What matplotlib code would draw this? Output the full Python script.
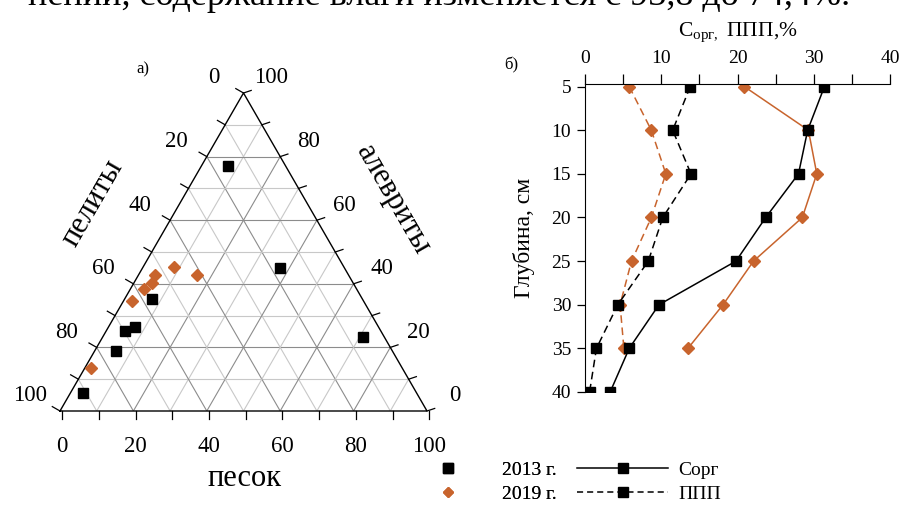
import numpy as np
import matplotlib.pyplot as plt
from matplotlib.lines import Line2D

plt.rcParams['font.family'] = ['Liberation Serif', 'DejaVu Serif']
plt.rcParams['mathtext.fontset'] = 'custom'
plt.rcParams['mathtext.rm'] = 'Liberation Serif'

ORANGE = '#C8642D'

# a) ternary diagram, % of sand (песок) and silt (алевриты); pelite is the rest
sand_2013 = [7.3, 37.4, 70.8, 7.4, 7.2, 5.1, 5.7, 3.6]
silt_2013 = [77.0, 45.1, 23.4, 35.1, 26.5, 25.2, 19.0, 5.6]
sand_2019 = [8.4, 16.0, 4.5, 5.1, 3.8, 2.2, 1.7]
silt_2019 = [45.4, 42.8, 42.8, 40.2, 38.3, 34.7, 13.4]
tern_ticks = [0, 20, 40, 60, 80, 100]

# б) depth profiles
depth = [5, 10, 15, 20, 25, 30, 35, 40]
corg_2013 = [31.4, 29.2, 28.0, 23.7, 19.8, 9.7, 5.8, 3.3]
ppp_2013 = [13.8, 11.5, 13.9, 10.2, 8.3, 4.3, 1.5, 0.6]
corg_2019 = [20.9, 29.3, 30.4, 28.5, 22.1, 18.1, 13.5]
ppp_2019 = [5.8, 8.7, 10.6, 8.7, 6.1, 4.6, 5.1]

H = np.sqrt(3) / 2


def cart(sand, silt):
    sand = np.asarray(sand, float)
    silt = np.asarray(silt, float)
    return sand + silt / 2, silt * H


fig = plt.figure(figsize=(9.01, 5.13), dpi=100)

# cut-off line of the page text above the figure
fig.text(850 / 901, 1 - 5 / 513, 'нении, содержание влаги изменяется с 93,8 до 74,4%.',
         ha='right', va='baseline', fontsize=26)

# ---------------- ternary ----------------
axT = fig.add_axes([60 / 901, 102 / 513, 367 / 901, 318 / 513])
axT.set_xlim(0, 100)
axT.set_ylim(0, 100 * H)
axT.axis('off')

for v in range(10, 100, 10):
    c = '#8c8c8c' if v % 20 == 0 else '#c8c8c8'
    # silt = v
    x, y = cart([0, 100 - v], [v, v])
    axT.plot(x, y, color=c, lw=0.8, zorder=1)
    # sand = v
    x, y = cart([v, v], [0, 100 - v])
    axT.plot(x, y, color=c, lw=0.8, zorder=1)
    # pelite = v
    x, y = cart([100 - v, 0], [0, 100 - v])
    axT.plot(x, y, color=c, lw=0.8, zorder=1)

x, y = cart([0, 100, 0, 0], [0, 0, 100, 0])
axT.plot(x, y, color='k', lw=1.0, zorder=2, clip_on=False)

for v in range(0, 101, 10):
    # left edge: pelite v
    x0, y0 = cart(0, 100 - v)
    axT.plot([x0, x0 - 2.1], [y0, y0 + 1.2], color='k', lw=0.9, clip_on=False)
    # right edge: silt v
    x0, y0 = cart(100 - v, v)
    axT.plot([x0, x0 + 2.1], [y0, y0 + 0.7], color='k', lw=0.9, clip_on=False)
    # bottom: sand v
    x0, y0 = cart(v, 0)
    axT.plot([x0 + 0.6, x0 + 0.6], [y0, y0 - 2.3], color='k', lw=0.9, clip_on=False)

for v in tern_ticks:
    x0, y0 = cart(0, 100 - v)
    axT.text(x0 - 8.2, y0 + 4.1, str(v), ha='center', va='center', fontsize=16.5)
    x0, y0 = cart(100 - v, v)
    axT.text(x0 + 7.6, y0 + 4.1, str(v), ha='center', va='center', fontsize=16.5)
    x0, y0 = cart(v, 0)
    axT.text(x0 + 0.6, y0 - 9.8, str(v), ha='center', va='center', fontsize=16.5)

axT.text(9.0, 56.7, 'пелиты', rotation=60, ha='center', va='center', fontsize=22)
axT.text(90.7, 57.5, 'алевриты', rotation=-60, ha='center', va='center', fontsize=22)
axT.text(50.4, -18.3, 'песок', ha='center', va='center', fontsize=22)
axT.text(22.6, 93.0, 'а)', ha='center', va='center', fontsize=12)

x, y = cart(sand_2013, silt_2013)
axT.plot(x, y, ls='none', marker='s', ms=7.2, color='k', zorder=4)
x, y = cart(sand_2019, silt_2019)
axT.plot(x, y, ls='none', marker='D', ms=6.0, color=ORANGE, mec=ORANGE, zorder=3)

# ---------------- profile ----------------
ax = fig.add_axes([585 / 901, 121 / 513, 305 / 901, 308 / 513])
ax.plot(corg_2019, depth[:len(corg_2019)], color=ORANGE, lw=1.1, marker='D', ms=5.8, zorder=2)
ax.plot(ppp_2019, depth[:len(ppp_2019)], color=ORANGE, lw=1.1, ls=(0, (5, 3)), marker='D', ms=5.8, zorder=2)
ax.plot(ppp_2013, depth, color='k', lw=1.1, ls=(0, (5, 3)), marker='s', ms=7, zorder=3)
ax.plot(corg_2013, depth, color='k', lw=1.1, marker='s', ms=7, zorder=3)

ax.set_xlim(0, 40)
ax.set_ylim(40, 4.7)
ax.spines['right'].set_visible(False)
ax.spines['bottom'].set_visible(False)
ax.xaxis.tick_top()
ax.set_xticks([0, 10, 20, 30, 40])
ax.set_xticks([5, 15, 25, 35], minor=True)
ax.set_yticks(depth)
ax.tick_params(axis='x', which='both', direction='out', length=7, width=0.9, labelsize=14, pad=5)
ax.tick_params(axis='y', direction='out', length=6, width=0.9, labelsize=14, pad=4)
ax.set_xlabel(r'$\mathrm{С}_{\mathrm{орг,}}$ ППП,%', fontsize=15.5)
ax.xaxis.set_label_position('top')
ax.xaxis.set_label_coords(0.5, 1.155)
ax.set_ylabel('Глубина, см', fontsize=17)
ax.yaxis.set_label_coords(-0.165, 0.5)
ax.text(-0.24, 1.06, 'б)', transform=ax.transAxes, ha='center', va='center', fontsize=12)

# ---------------- legends ----------------
legA = fig.legend(
    handles=[Line2D([], [], ls='none', marker='s', ms=6.5, color='k'),
             Line2D([], [], ls='none', marker='D', ms=5.5, color=ORANGE)],
    labels=['2013 г.', '2019 г.'],
    loc='upper left', bbox_to_anchor=(438 / 901, 1 - 461 / 513),
    frameon=False, fontsize=14, handlelength=1, handletextpad=2.3,
    labelspacing=0.36, borderpad=0, borderaxespad=0)
fig.add_artist(legA)
fig.legend(
    handles=[Line2D([], [], color='k', lw=1.1, marker='s', ms=6.5),
             Line2D([], [], color='k', lw=1.1, ls=(0, (4, 2.6)), marker='s', ms=6.5)],
    labels=['Сорг', 'ППП'],
    loc='upper left', bbox_to_anchor=(577 / 901, 1 - 461 / 513),
    frameon=False, fontsize=14, handlelength=4.7, handletextpad=0.5,
    labelspacing=0.36, borderpad=0, borderaxespad=0, numpoints=1)

fig.savefig('out.png', dpi=100)
